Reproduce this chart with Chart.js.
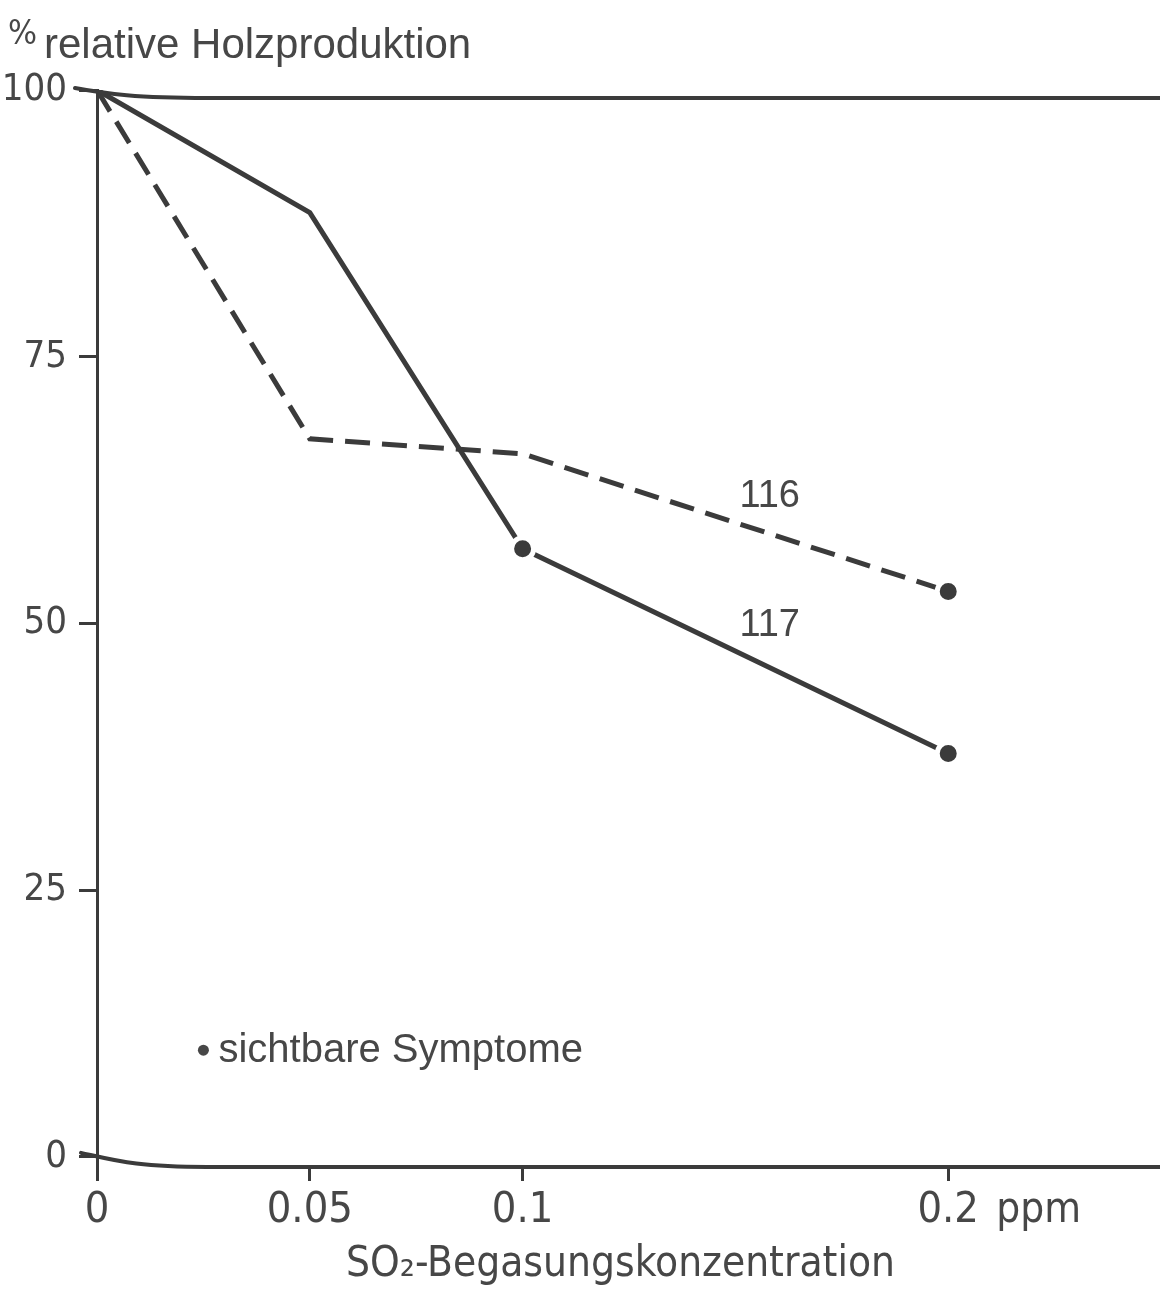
<!DOCTYPE html>
<html>
<head>
<meta charset="utf-8">
<script src="https://cdn.jsdelivr.net/npm/chart.js@4/dist/chart.umd.min.js"></script>
<style>
    html, body { margin: 0; padding: 0; background: #fff; }
    #wrap { width: 1160px; height: 1290px; position: relative; }
</style>
</head>
<body>
<div id="wrap"><canvas id="holzChart"></canvas></div>
<script>
(function() {
    'use strict';

    // SO2 concentration (ppm)
    const concentrations = [0, 0.05, 0.1, 0.2];
    const xTicks = [0, 0.05, 0.1, 0.2];
    const yTicks = [0, 25, 50, 75, 100];

    // relative wood production (%)
    const clone116 = [100, 67.3, 65.9, 53.0];
    const clone117 = [100, 88.5, 57.0, 37.8];

    // visible symptoms
    const symptoms116 = [false, false, false, true];
    const symptoms117 = [false, false, true, true];

    const ink = '#3b3b3b';
    const textInk = '#474747';
    const narrow = '"Liberation Sans Narrow", "DejaVu Sans Condensed", sans-serif';
    const regular = '"Liberation Sans", Arial, sans-serif';

    function toPoints(values) {
        return concentrations.map((x, i) => ({ x: x, y: values[i] }));
    }

    // frame lines, labels and notes drawn on top of the chart
    const framePlugin = {
        id: 'frame',
        afterDraw(chart) {
            const c = chart.ctx;
            const area = chart.chartArea;
            const xs = chart.scales.x;
            const ys = chart.scales.y;
            const x0 = xs.getPixelForValue(0);

            c.save();
            c.strokeStyle = ink;
            c.lineCap = 'round';

            // top line with hand-drawn bend at origin
            c.lineWidth = 4;
            const yTop = ys.getPixelForValue(100);
            c.beginPath();
            c.moveTo(x0 - 22, yTop - 2);
            c.bezierCurveTo(x0 + 10, yTop + 4, x0 + 40, yTop + 8, x0 + 110, yTop + 8);
            c.lineTo(chart.width + 5, yTop + 8);
            c.stroke();

            // bottom line with bend at origin
            const y0 = ys.getPixelForValue(0);
            c.beginPath();
            c.moveTo(x0 - 16, y0 - 4);
            c.bezierCurveTo(x0 + 20, y0 + 4, x0 + 40, area.bottom, x0 + 110, area.bottom);
            c.lineTo(chart.width + 5, area.bottom);
            c.stroke();

            // y axis title
            c.fillStyle = textInk;
            c.textBaseline = 'alphabetic';
            c.textAlign = 'left';
            c.font = '34px ' + narrow;
            c.fillText('%', 8, 44);
            c.font = '42px ' + regular;
            c.fillText('relative Holzproduktion', 44, 58);

            // unit after the last x tick
            c.font = '42px ' + narrow;
            c.textBaseline = 'top';
            c.fillText('ppm', xs.getPixelForValue(0.2) + 48, 1190);

            // series names
            c.font = '38px ' + regular;
            c.textAlign = 'left';
            c.textBaseline = 'alphabetic';
            c.fillText('116', xs.getPixelForValue(0.15) + 4, ys.getPixelForValue(60.9));
            c.fillText('117', xs.getPixelForValue(0.15) + 4, ys.getPixelForValue(48.8));

            // legend note
            c.font = '40px ' + regular;
            const nx = xs.getPixelForValue(0.025);
            const ny = ys.getPixelForValue(10);
            c.beginPath();
            c.arc(nx, ny, 5.5, 0, Math.PI * 2);
            c.fill();
            c.fillText('sichtbare Symptome', nx + 15, ny + 12);
            c.restore();
        }
    };

    document.addEventListener('DOMContentLoaded', function() {
        const ctx = document.getElementById('holzChart');

        new Chart(ctx, {
            type: 'line',
            data: {
                datasets: [{
                    label: '117',
                    data: toPoints(clone117),
                    borderColor: ink,
                    borderWidth: 5,
                    pointRadius: symptoms117.map(s => s ? 11 : 0),
                    pointBackgroundColor: ink,
                    pointBorderColor: '#fff',
                    pointBorderWidth: 5,
                    tension: 0
                }, {
                    label: '116',
                    data: toPoints(clone116),
                    borderColor: ink,
                    borderWidth: 5,
                    borderDash: [25, 12],
                    pointRadius: symptoms116.map(s => s ? 11 : 0),
                    pointBackgroundColor: ink,
                    pointBorderColor: '#fff',
                    pointBorderWidth: 5,
                    tension: 0
                }]
            },
            options: {
                responsive: true,
                maintainAspectRatio: false,
                animation: false,
                layout: { padding: { top: 90, right: 0, bottom: 0, left: 0 } },
                plugins: {
                    legend: { display: false },
                    tooltip: { enabled: false }
                },
                scales: {
                    x: {
                        type: 'linear',
                        min: 0,
                        max: 0.246,
                        afterBuildTicks: s => { s.ticks = xTicks.map(v => ({ value: v })); },
                        afterFit: s => { s.height = 123; },
                        border: { display: false },
                        grid: {
                            drawOnChartArea: false,
                            tickLength: 14,
                            tickWidth: 3,
                            tickColor: ink
                        },
                        ticks: {
                            color: textInk,
                            font: { family: narrow, size: 43 },
                            padding: 4,
                            maxRotation: 0,
                            callback: v => String(v)
                        },
                        title: {
                            display: true,
                            text: 'SO₂-Begasungskonzentration',
                            color: textInk,
                            font: { family: narrow, size: 42 },
                            padding: { top: 6, bottom: 0 }
                        }
                    },
                    y: {
                        type: 'linear',
                        min: -0.95,
                        max: 100,
                        afterBuildTicks: s => { s.ticks = yTicks.map(v => ({ value: v })); },
                        afterFit: s => { s.width = 97; },
                        border: { display: true, color: ink, width: 3 },
                        grid: {
                            drawOnChartArea: false,
                            tickLength: 18,
                            tickWidth: 3,
                            tickColor: ink
                        },
                        ticks: {
                            color: textInk,
                            font: { family: narrow, size: 38 },
                            padding: 12
                        }
                    }
                }
            },
            plugins: [framePlugin]
        });
    });
})();
</script>
</body>
</html>
